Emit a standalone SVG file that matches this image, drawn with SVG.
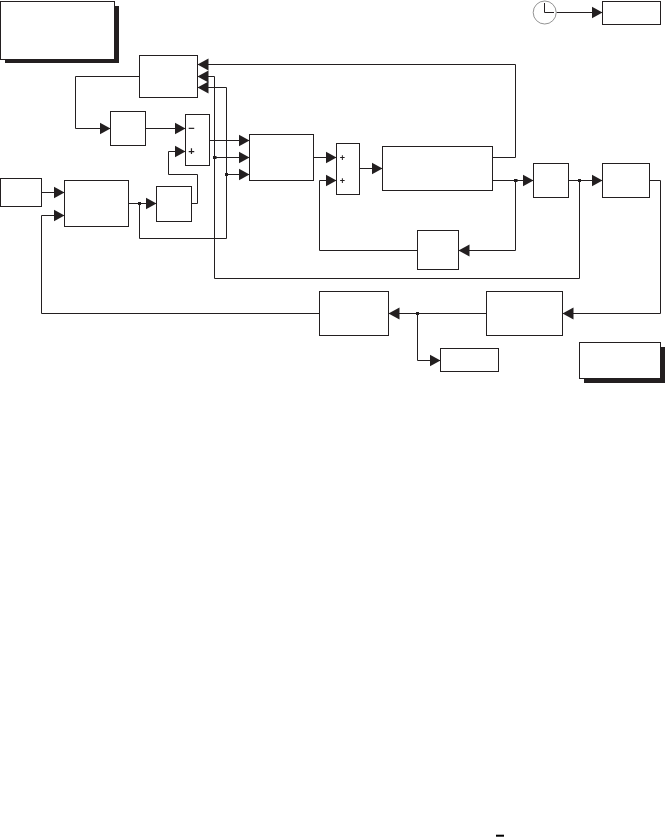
<svg xmlns="http://www.w3.org/2000/svg" width="665" height="837" viewBox="0 0 665 837">
<style>
.b{fill:#fff;stroke:#231f20;stroke-width:1}
.s{fill:#231f20;stroke:none}
.c{fill:none;stroke:#231f20;stroke-width:1}
.d{fill:#231f20}
.t{font-family:"Liberation Sans",Arial,sans-serif;font-size:11px;font-weight:bold;fill:#231f20;text-anchor:middle;filter:url(#g)}
</style>
<defs>
<filter id="g" x="-50%" y="-50%" width="200%" height="200%" color-interpolation-filters="sRGB"><feOffset dx="0" dy="0"/></filter>
<marker id="a" markerUnits="userSpaceOnUse" markerWidth="12" markerHeight="13" refX="11" refY="6.5" orient="auto"><path d="M0,0.5L11,6.5L0,12.5Z" fill="#231f20"/></marker>
</defs>
<rect width="665" height="837" fill="#fff"/>
<g id="connectors">
<path class="c" marker-end="url(#a)" d="M139.5,76.5H75.5V128.5H110.5"/>
<path class="c" marker-end="url(#a)" d="M145.5,128.5H185.5"/>
<path class="c" marker-end="url(#a)" d="M191.5,203.5H197.5V174.5H168.5V151.5H185.5"/>
<path class="c" marker-end="url(#a)" d="M209.5,140.5H249.5"/>
<path class="c" marker-end="url(#a)" d="M579.5,180.5V278.5H214.5V76.5H197.5"/>
<path class="c" marker-end="url(#a)" d="M214.5,157.5H249.5"/>
<path class="c" marker-end="url(#a)" d="M139.5,203.5V238.5H226.5V87.5H197.5"/>
<path class="c" marker-end="url(#a)" d="M226.5,174.5H249.5"/>
<path class="c" marker-end="url(#a)" d="M492.5,157.5H515.5V64.5H197.5"/>
<path class="c" marker-end="url(#a)" d="M313.5,157.5H336.5"/>
<path class="c" marker-end="url(#a)" d="M359.5,168.5H382.5"/>
<path class="c" marker-end="url(#a)" d="M492.5,180.5H533.5"/>
<path class="c" marker-end="url(#a)" d="M515.5,180.5V250.5H458.5"/>
<path class="c" marker-end="url(#a)" d="M417.5,250.5H319.5V180.5H336.5"/>
<path class="c" marker-end="url(#a)" d="M568.5,180.5H602.5"/>
<path class="c" marker-end="url(#a)" d="M649.5,180.5H660.5V313.5H562.5"/>
<path class="c" marker-end="url(#a)" d="M486.5,313.5H388.5"/>
<path class="c" marker-end="url(#a)" d="M417.5,313.5V360.5H440.5"/>
<path class="c" marker-end="url(#a)" d="M319.5,313.5H41.5V215.5H64.5"/>
<path class="c" marker-end="url(#a)" d="M41.5,192.5H64.5"/>
<path class="c" marker-end="url(#a)" d="M128.5,203.5H156.5"/>
<path class="c" marker-end="url(#a)" d="M556.5,12.5H602.5"/>
<rect class="d" x="213" y="156" width="3.5" height="3"/>
<rect class="d" x="225" y="173" width="3" height="3"/>
<rect class="d" x="138" y="202" width="3" height="3"/>
<rect class="d" x="514" y="179" width="3.5" height="3"/>
<rect class="d" x="578" y="179" width="3" height="3"/>
<rect class="d" x="416" y="312" width="3" height="3"/>
</g>
<g id="note1"><rect class="s" x="5" y="6" width="114" height="57"/><rect class="b" x="0.5" y="1.5" width="114" height="58"/></g>
<g id="note2"><rect class="s" x="584" y="347" width="81" height="36"/><rect class="b" x="579.5" y="342.5" width="81" height="36"/></g>
<g id="clock"><circle cx="544.7" cy="12.5" r="11.5" fill="#fff" stroke="#777" stroke-width="0.8"/><path class="c" d="M544.5,3V12.5H554"/></g>
<g id="display-time"><rect class="b" x="602.5" y="1.5" width="58" height="23"/></g>
<g id="block-a"><rect class="b" x="139.5" y="55.5" width="58" height="42"/></g>
<g id="block-b"><rect class="b" x="110.5" y="111.5" width="35" height="34"/></g>
<g id="sum1"><rect class="b" x="185.5" y="114.5" width="24" height="51"/><text class="t" x="191.5" y="132">−</text><text class="t" x="191.5" y="155">+</text></g>
<g id="block-c"><rect class="b" x="249.5" y="134.5" width="64" height="46"/></g>
<g id="sum2"><rect class="b" x="336.5" y="143.5" width="23" height="51"/><text class="t" x="342.5" y="160.5" style="font-size:9px">+</text><text class="t" x="342.5" y="183.5" style="font-size:9px">+</text></g>
<g id="block-d"><rect class="b" x="382.5" y="146.5" width="110" height="44"/></g>
<g id="block-e"><rect class="b" x="533.5" y="163.5" width="35" height="34"/></g>
<g id="block-f"><rect class="b" x="602.5" y="163.5" width="47" height="34"/></g>
<g id="block-g"><rect class="b" x="417.5" y="230.5" width="41" height="39"/></g>
<g id="input"><rect class="b" x="0.5" y="178.5" width="41" height="28"/></g>
<g id="block-h"><rect class="b" x="64.5" y="180.5" width="64" height="46"/></g>
<g id="block-i"><rect class="b" x="156.5" y="186.5" width="35" height="35"/></g>
<g id="block-j"><rect class="b" x="319.5" y="291.5" width="69" height="44"/></g>
<g id="block-k"><rect class="b" x="486.5" y="291.5" width="76" height="44"/></g>
<g id="block-l"><rect class="b" x="440.5" y="348.5" width="58" height="23"/></g>
<rect x="496" y="834.7" width="8" height="2" fill="#000"/>
</svg>
